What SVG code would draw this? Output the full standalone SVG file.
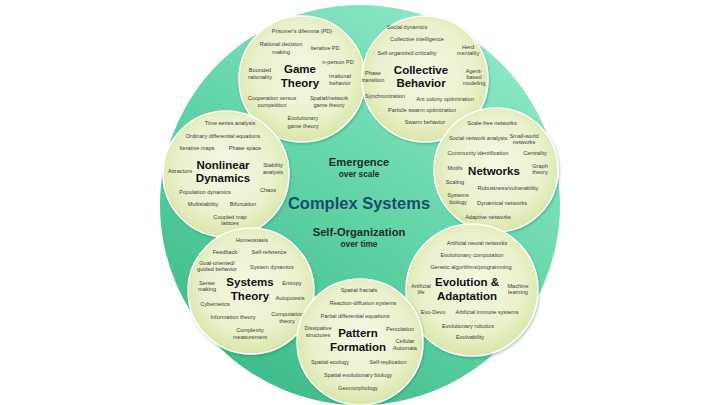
<svg xmlns="http://www.w3.org/2000/svg" width="720" height="405" viewBox="0 0 720 405">
<defs>
<linearGradient id="bigG" x1="0.8" y1="0.05" x2="0.2" y2="0.95">
<stop offset="0" stop-color="#8ee8c5"/>
<stop offset="0.5" stop-color="#62d4a8"/>
<stop offset="1" stop-color="#3cbb87"/>
</linearGradient>
<radialGradient id="smG" cx="0.5" cy="0.45" r="0.55">
<stop offset="0" stop-color="#f5f8e4"/>
<stop offset="0.7" stop-color="#eaf1cc"/>
<stop offset="1" stop-color="#d9e6a9"/>
</radialGradient>
<filter id="sh" x="-10%" y="-10%" width="120%" height="120%">
<feDropShadow dx="1" dy="1.5" stdDeviation="1.2" flood-color="#1d6b4a" flood-opacity="0.35"/>
</filter>
</defs>
<style>
.c{fill:url(#smG);stroke:#ffffff;stroke-width:1.5;filter:url(#sh)}
.t{font-family:"Liberation Sans",Arial,sans-serif;font-size:5.6px;fill:#3a3a3a;text-anchor:middle}
.h{font-family:"Liberation Sans",Arial,sans-serif;font-size:11.5px;font-weight:bold;fill:#111;text-anchor:middle}
.m{font-family:"Liberation Sans",Arial,sans-serif;font-weight:bold;fill:#1c2f24;text-anchor:middle}
</style>
<rect width="720" height="405" fill="#ffffff"/>
<g id="complex-systems">
<circle cx="360" cy="205" r="200" fill="url(#bigG)"/>
<text class="m" x="359" y="166" font-size="11.2">Emergence</text>
<text class="m" x="359" y="176.5" font-size="8.3">over scale</text>
<text class="m" x="359" y="209" font-size="16.5" fill="#1b4c6e" style="fill:#1b4c6e">Complex Systems</text>
<text class="m" x="359" y="236" font-size="11.2">Self-Organization</text>
<text class="m" x="359" y="247" font-size="8.3">over time</text>
</g>
<g id="game-theory">
<circle class="c" cx="302" cy="79" r="63"/>
<text class="t" x="302" y="33">Prisoner's dilemma (PD)</text>
<text class="t" x="281" y="46">Rational decision</text>
<text class="t" x="281" y="54">making</text>
<text class="t" x="325" y="50">Iterative PD</text>
<text class="t" x="338" y="64">n-person PD</text>
<text class="t" x="260" y="72">Bounded</text>
<text class="t" x="260" y="79">rationality</text>
<text class="h" x="300" y="73">Game</text>
<text class="h" x="300" y="87">Theory</text>
<text class="t" x="340" y="78">Irrational</text>
<text class="t" x="340" y="85">behavior</text>
<text class="t" x="272" y="100">Cooperation versus</text>
<text class="t" x="272" y="107">competition</text>
<text class="t" x="329" y="100">Spatial/network</text>
<text class="t" x="329" y="107">game theory</text>
<text class="t" x="303" y="120">Evolutionary</text>
<text class="t" x="303" y="128">game theory</text>
</g>
<g id="collective-behavior">
<circle class="c" cx="425" cy="79" r="63"/>
<text class="t" x="407" y="29">Social dynamics</text>
<text class="t" x="417" y="41">Collective intelligence</text>
<text class="t" x="407" y="55">Self-organized criticality</text>
<text class="t" x="468" y="49">Herd</text>
<text class="t" x="468" y="55">mentality</text>
<text class="h" x="421" y="74">Collective</text>
<text class="h" x="421" y="87">Behavior</text>
<text class="t" x="373" y="75">Phase</text>
<text class="t" x="373" y="82">transition</text>
<text class="t" x="474" y="73">Agent-</text>
<text class="t" x="474" y="79">based</text>
<text class="t" x="474" y="85">modeling</text>
<text class="t" x="385" y="98">Synchronization</text>
<text class="t" x="445" y="101">Ant colony optimization</text>
<text class="t" x="422" y="112">Particle swarm optimization</text>
<text class="t" x="425" y="124">Swarm behavior</text>
</g>
<g id="networks">
<circle class="c" cx="496" cy="170" r="62"/>
<text class="t" x="492" y="125">Scale-free networks</text>
<text class="t" x="478" y="140">Social network analysis</text>
<text class="t" x="524" y="138">Small-world</text>
<text class="t" x="524" y="144">networks</text>
<text class="t" x="478" y="155">Community identification</text>
<text class="t" x="535" y="155">Centrality</text>
<text class="t" x="455" y="170">Motifs</text>
<text class="h" x="494" y="175">Networks</text>
<text class="t" x="540" y="168">Graph</text>
<text class="t" x="540" y="174">theory</text>
<text class="t" x="455" y="184">Scaling</text>
<text class="t" x="508" y="190">Robustness/vulnerability</text>
<text class="t" x="458" y="197">Systems</text>
<text class="t" x="458" y="204">biology</text>
<text class="t" x="502" y="205">Dynamical networks</text>
<text class="t" x="488" y="219">Adaptive networks</text>
</g>
<g id="nonlinear-dynamics">
<circle class="c" cx="226" cy="174" r="63"/>
<text class="t" x="230" y="125">Time series analysis</text>
<text class="t" x="223" y="138">Ordinary differential equations</text>
<text class="t" x="197" y="150">Iterative maps</text>
<text class="t" x="245" y="150">Phase space</text>
<text class="t" x="180" y="173">Attractors</text>
<text class="h" x="223" y="169">Nonlinear</text>
<text class="h" x="223" y="182">Dynamics</text>
<text class="t" x="273" y="167">Stability</text>
<text class="t" x="273" y="174">analysis</text>
<text class="t" x="205" y="194">Population dynamics</text>
<text class="t" x="268" y="192">Chaos</text>
<text class="t" x="203" y="206">Multistability</text>
<text class="t" x="243" y="206">Bifurcation</text>
<text class="t" x="230" y="219">Coupled map</text>
<text class="t" x="230" y="225">lattices</text>
</g>
<g id="systems-theory">
<circle class="c" cx="251" cy="291" r="63"/>
<text class="t" x="252" y="242">Homeostasis</text>
<text class="t" x="225" y="254">Feedback</text>
<text class="t" x="269" y="254">Self-reference</text>
<text class="t" x="217" y="265">Goal-oriented/</text>
<text class="t" x="217" y="271">guided behavior</text>
<text class="t" x="272" y="269">System dynamics</text>
<text class="t" x="207" y="285">Sense</text>
<text class="t" x="207" y="291">making</text>
<text class="h" x="250" y="286">Systems</text>
<text class="h" x="250" y="300">Theory</text>
<text class="t" x="292" y="285">Entropy</text>
<text class="t" x="290" y="300">Autopoiesis</text>
<text class="t" x="215" y="306">Cybernetics</text>
<text class="t" x="233" y="319">Information theory</text>
<text class="t" x="287" y="316">Computation</text>
<text class="t" x="287" y="323">theory</text>
<text class="t" x="250" y="332">Complexity</text>
<text class="t" x="250" y="339">measurement</text>
</g>
<g id="evolution-adaptation">
<circle class="c" cx="472" cy="290" r="66"/>
<text class="t" x="477" y="245">Artificial neural networks</text>
<text class="t" x="472" y="257">Evolutionary computation</text>
<text class="t" x="471" y="269">Genetic algorithms/programming</text>
<text class="t" x="421" y="288">Artificial</text>
<text class="t" x="421" y="294">life</text>
<text class="h" x="467" y="286">Evolution &amp;</text>
<text class="h" x="467" y="300">Adaptation</text>
<text class="t" x="518" y="288">Machine</text>
<text class="t" x="518" y="294">learning</text>
<text class="t" x="433" y="314">Evo-Devo</text>
<text class="t" x="487" y="314">Artificial immune systems</text>
<text class="t" x="468" y="328">Evolutionary robotics</text>
<text class="t" x="470" y="339">Evolvability</text>
</g>
<g id="pattern-formation">
<circle class="c" cx="360" cy="342" r="63"/>
<text class="t" x="359" y="292">Spatial fractals</text>
<text class="t" x="363" y="305">Reaction-diffusion systems</text>
<text class="t" x="355" y="318">Partial differential equations</text>
<text class="t" x="318" y="330">Dissipative</text>
<text class="t" x="318" y="337">structures</text>
<text class="h" x="358" y="337">Pattern</text>
<text class="h" x="358" y="351">Formation</text>
<text class="t" x="400" y="331">Percolation</text>
<text class="t" x="405" y="343">Cellular</text>
<text class="t" x="405" y="350">Automata</text>
<text class="t" x="330" y="364">Spatial ecology</text>
<text class="t" x="388" y="364">Self-replication</text>
<text class="t" x="358" y="377">Spatial evolutionary biology</text>
<text class="t" x="358" y="390">Geomorphology</text>
</g>
</svg>
